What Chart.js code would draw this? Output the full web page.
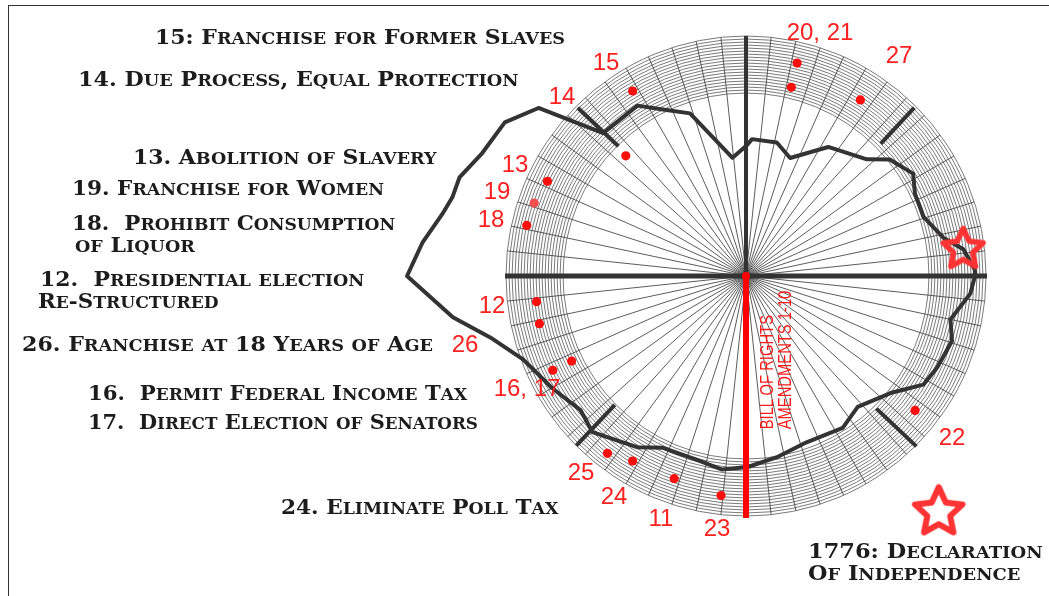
<!DOCTYPE html>
<html>
<head>
<meta charset="utf-8">
<script src="https://cdn.jsdelivr.net/npm/chart.js@4.4.1/dist/chart.umd.min.js"></script>
<style>
  html, body { margin: 0; padding: 0; background: #fff; overflow: hidden; }
  #wrap { position: relative; width: 1049px; height: 596px; overflow: hidden; }
  #dial { position: absolute; left: 0; top: 0; }
  .frame { position: absolute; left: 8px; top: 5px; width: 1200px; height: 800px;
           border-left: 1.5px solid #333; border-top: 1.5px solid #333; }
  .cap { position: absolute; font-family: 'DejaVu Serif', serif; font-weight: bold;
         font-size: 20px; color: #1c1c1c; white-space: pre; line-height: 1;
         transform-origin: 0 50%; }
  .cap .sc { font-size: 0.8em; }
  .num { position: absolute; font-family: 'Liberation Sans', Arial, sans-serif; font-size: 24px;
         color: #ff2020; line-height: 1; white-space: pre; transform: translate(-50%, -50%); }
  .bill { position: absolute; left: 776px; top: 360px; font-family: 'Liberation Sans', Arial, sans-serif;
          font-size: 18px; line-height: 18px; color: #ff1a1a; white-space: pre;
          transform: translate(-50%, -50%) rotate(-90deg) scaleX(0.82); }
</style>
</head>
<body>
<div id="wrap">
  <canvas id="dial" width="1049" height="596"></canvas>
  <div class="frame"></div>

  <div class="cap" data-w="410" style="left:155px; top:37px">15: Franchise for Former Slaves</div>
  <div class="cap" data-w="440" style="left:78px; top:79px">14. Due Process, Equal Protection</div>
  <div class="cap" data-w="304" style="left:133px; top:157px">13. Abolition of Slavery</div>
  <div class="cap" data-w="312" style="left:72px; top:188px">19. Franchise for Women</div>
  <div class="cap" data-w="323" style="left:72px; top:223px">18.  Prohibit Consumption</div>
  <div class="cap" data-w="120" style="left:75px; top:245px">of Liquor</div>
  <div class="cap" data-w="324" style="left:40px; top:279px">12.  Presidential election</div>
  <div class="cap" data-w="181" style="left:38px; top:301px">Re-Structured</div>
  <div class="cap" data-w="411" style="left:22px; top:344px">26. Franchise at 18 Years of Age</div>
  <div class="cap" data-w="379" style="left:88px; top:393px">16.  Permit Federal Income Tax</div>
  <div class="cap" data-w="390" style="left:88px; top:422px">17.  Direct Election of Senators</div>
  <div class="cap" data-w="277" style="left:281px; top:507px">24. Eliminate Poll Tax</div>
  <div class="cap" data-w="235" style="left:808px; top:551px">1776: Declaration</div>
  <div class="cap" data-w="212" style="left:808px; top:573px">Of Independence</div>

  <div class="num" style="left:606px; top:62px">15</div>
  <div class="num" style="left:562px; top:96px">14</div>
  <div class="num" style="left:820px; top:32px">20, 21</div>
  <div class="num" style="left:899px; top:55px">27</div>
  <div class="num" style="left:515px; top:164px">13</div>
  <div class="num" style="left:497px; top:191px">19</div>
  <div class="num" style="left:491px; top:219px">18</div>
  <div class="num" style="left:492px; top:305px">12</div>
  <div class="num" style="left:465px; top:344px">26</div>
  <div class="num" style="left:527px; top:388px">16, 17</div>
  <div class="num" style="left:952px; top:437px">22</div>
  <div class="num" style="left:581px; top:472px">25</div>
  <div class="num" style="left:614px; top:496px">24</div>
  <div class="num" style="left:661px; top:518px">11</div>
  <div class="num" style="left:717px; top:528px">23</div>

  <div class="bill">BILL OF RIGHTS
AMENDMENTS 1-10</div>
</div>

<script>
// dial: angle in degrees clockwise from the top, radius in the dial's own units
const SLOTS = 720;          // half-degree positions around the dial
const SPOKES = 60;
const BAND_INNER = 183;
const DIAL_MAX = 240;

// the dark closed outline
const outlineAngle = [0.4, 2.5, 13.1, 20.4, 32.4, 46.2, 51.1, 58.3, 63.8, 71.6, 78.8, 83.2, 88.5, 90,
  94.3, 102.2, 107.3, 115.5, 121.6, 129.1, 139.5, 147.3, 159.8, 170.3, 179.7, 186.8, 196.2, 205.8,
  212.5, 224.4, 231.1, 240.2, 249.4, 256.6, 262.0, 269.8, 275.8, 281.7, 285.1, 289.1, 295.2, 302.6,
  308.9, 315.0, 327.7, 333.4, 341.0, 353.7];
const outlineRadius = [131, 137, 137, 126, 153, 168, 185, 196, 188, 187, 201, 219, 229, 229,
  225, 209, 216, 212, 208, 186, 172, 180, 177, 184, 191, 195, 190, 191,
  203, 219, 213, 224, 238, 263, 296, 339, 325, 310, 304, 303, 291, 286,
  267, 202, 202, 186, 172, 119];

// amendments 11-27
const amendmentNo = ['11', '12', '13', '14', '15', '16', '17', '18', '19', '20', '21', '22', '23', '24', '25', '26', '27'];
const amendmentAngle = [199.3, 263.2, 295.6, 315.0, 328.4, 244.0, 244.0, 282.9, 289.0, 13.7, 13.7, 128.4, 186.5, 211.4, 218.1, 256.9, 32.9];
const amendmentRadius = [215, 211, 220, 170, 217, 194, 215, 225, 224, 219, 194, 216, 221, 217, 225, 212, 210];

// cross axes and season marks
const axisAngle = [90, 270];
const axisRadius = [241, 241];
const topAngle = 0, topRadius = 240;
const billAngle = 180, billRadius = 242;
const seasonAngle = [45, 135, 225, 315];
const seasonOuter = [238, 241, 240, 238];
const seasonInner = [189, 186, 184, 182];

// 1776 stars
const starAngle = [82.6, 140.5];
const starRadius = [219, 303];

const slot = a => Math.round(a * 2) % SLOTS;
const blank = () => new Array(SLOTS).fill(null);
function ring(angles, values) {
  const d = blank();
  angles.forEach((a, i) => { d[slot(a)] = values[i]; });
  return d;
}
function radial(angles, outer, inner) {
  const d = blank();
  angles.forEach((a, i) => { d[slot(a)] = outer[i]; d[(slot(a) + 1) % SLOTS] = inner[i]; });
  return d;
}

const dotsA = blank(), dotsB = blank();
amendmentAngle.forEach((a, i) => {
  const s = slot(a);
  if (dotsA[s] === null) dotsA[s] = amendmentRadius[i]; else dotsB[s] = amendmentRadius[i];
});
const paleSlot = slot(amendmentAngle[amendmentNo.indexOf('19')]);

function starImage(R, stroke) {
  const size = Math.ceil(2 * R + stroke + 4);
  const c = document.createElement('canvas');
  c.width = c.height = size;
  const g = c.getContext('2d');
  const cx = size / 2, cy = size / 2 + R * 0.095, r = R * 0.48;
  g.beginPath();
  for (let k = 0; k < 10; k++) {
    const a = -Math.PI / 2 + k * Math.PI / 5;
    const rr = k % 2 ? r : R;
    g.lineTo(cx + rr * Math.cos(a), cy + rr * Math.sin(a));
  }
  g.closePath();
  g.lineWidth = stroke;
  g.lineJoin = 'round';
  g.strokeStyle = '#ff3333';
  g.stroke();
  return c;
}
const starImgs = [starImage(21, 5.5), starImage(25, 6)];

const lineSet = (data, color, width, order, extra) => Object.assign({
  data, borderColor: color, borderWidth: width, pointRadius: 0, fill: false,
  spanGaps: false, order, clip: false, tension: 0
}, extra || {});

new Chart(document.getElementById('dial'), {
  type: 'radar',
  data: {
    labels: Array.from({ length: SLOTS }, (_, i) => String(i / 2)),
    datasets: [
      lineSet(ring(outlineAngle, outlineRadius), '#333', 4, 6, { spanGaps: true, borderJoinStyle: 'round' }),
      lineSet(ring(axisAngle, axisRadius), '#333', 5, 5, { spanGaps: true }),
      lineSet(radial([topAngle], [topRadius], [0]), '#333', 4, 5),
      lineSet(radial(seasonAngle, seasonOuter, seasonInner), '#333', 4, 4),
      lineSet(radial([billAngle], [billRadius], [0]), '#ff0000', 6, 3,
        { pointRadius: c => c.raw === 0 ? 4 : 0, pointBackgroundColor: '#ff0000', pointBorderWidth: 0 }),
      {
        data: dotsA, showLine: false, order: 2, clip: false, fill: false,
        pointRadius: 4.6, pointBorderWidth: 0,
        pointBackgroundColor: c => c.dataIndex === paleSlot ? '#f24f4f' : '#ff0d0d'
      },
      {
        data: dotsB, showLine: false, order: 2, clip: false, fill: false,
        pointRadius: 4.6, pointBorderWidth: 0, pointBackgroundColor: '#ff0d0d'
      },
      {
        data: ring(starAngle, starRadius), showLine: false, order: 1, clip: false, fill: false,
        pointStyle: c => starImgs[starRadius.indexOf(c.raw)] || starImgs[0],
        pointRadius: 20, pointBorderWidth: 0
      }
    ]
  },
  options: {
    responsive: false,
    animation: false,
    devicePixelRatio: 1,
    layout: { padding: { left: 506, right: 63, top: 36, bottom: 80 } },
    plugins: { legend: { display: false }, tooltip: { enabled: false } },
    scales: {
      r: {
        min: 0,
        max: DIAL_MAX,
        ticks: { display: false, stepSize: 3 },
        pointLabels: { display: false },
        grid: {
          circular: true,
          color: '#6a6a6a',
          lineWidth: c => c.tick && c.tick.value >= BAND_INNER ? 0.9 : 0
        },
        angleLines: {
          color: '#4a4a4a',
          lineWidth: c => c.index % (SLOTS / SPOKES) === 0 ? 0.9 : 0
        }
      }
    }
  }
});

// small caps captions squeezed to the widths seen in the picture
document.querySelectorAll('.cap').forEach(el => {
  el.innerHTML = el.textContent.replace(/[a-z]+/g, m => '<span class="sc">' + m.toUpperCase() + '</span>');
  const k = (+el.dataset.w) / el.offsetWidth;
  el.style.transform = 'translateY(-50%) scaleX(' + k.toFixed(3) + ')';
});
</script>
</body>
</html>
